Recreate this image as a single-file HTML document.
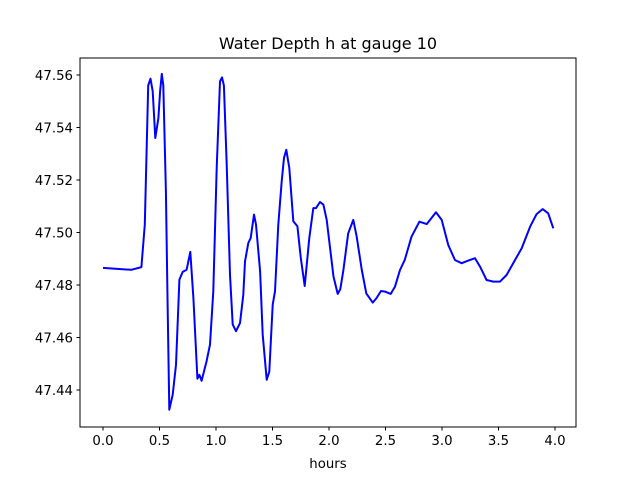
<!DOCTYPE html>
<html><head><meta charset="utf-8"><style>
body{margin:0;background:#fff;}
svg text{font-family:"DejaVu Sans","Liberation Sans",sans-serif;fill:#000;}
</style></head><body>
<svg id="chart" width="640" height="480" xmlns="http://www.w3.org/2000/svg">
<rect width="640" height="480" fill="#fff"/>
<text x="328" y="49" font-size="16" text-anchor="middle">Water Depth h at gauge 10</text>
<text x="328" y="468" font-size="13.3" text-anchor="middle">hours</text>
<g id="ticks"></g>
<path id="line" fill="none" stroke="#0000ff" stroke-width="2" stroke-linejoin="round"/>
<rect x="80" y="58" width="496" height="369" fill="none" stroke="#000" stroke-width="1"/>
</svg>
<script>
const hours=[0,0.25,0.34,0.37,0.40,0.42,0.44,0.463,0.49,0.505,0.52,0.534,0.557,0.57,0.587,0.617,0.646,0.676,0.705,0.74,0.773,0.80,0.835,0.853,0.873,0.917,0.947,0.976,1.006,1.035,1.053,1.07,1.095,1.124,1.148,1.177,1.212,1.242,1.257,1.286,1.307,1.336,1.354,1.39,1.413,1.449,1.472,1.502,1.522,1.551,1.581,1.602,1.622,1.649,1.684,1.72,1.75,1.785,1.826,1.861,1.885,1.92,1.95,1.98,2.04,2.077,2.10,2.127,2.17,2.215,2.245,2.29,2.33,2.387,2.42,2.46,2.496,2.546,2.584,2.628,2.67,2.73,2.8,2.865,2.947,2.997,3.056,3.115,3.174,3.233,3.292,3.336,3.395,3.454,3.513,3.572,3.63,3.705,3.78,3.837,3.89,3.94,3.985];
const depth=[47.4865,47.4858,47.4868,47.503,47.556,47.5586,47.5538,47.536,47.5436,47.5538,47.5604,47.556,47.5158,47.4777,47.4325,47.4382,47.4496,47.482,47.485,47.4858,47.4926,47.475,47.4443,47.4458,47.4435,47.451,47.4573,47.4776,47.5246,47.5576,47.5591,47.556,47.526,47.4839,47.465,47.4624,47.4655,47.4763,47.489,47.496,47.4979,47.5068,47.503,47.4852,47.4611,47.4439,47.447,47.4725,47.4776,47.503,47.5195,47.5284,47.5315,47.5246,47.5043,47.5024,47.4903,47.4796,47.4979,47.5093,47.5093,47.5116,47.5106,47.5048,47.4832,47.4766,47.4784,47.4857,47.4997,47.5048,47.4984,47.4857,47.4768,47.4733,47.475,47.4777,47.4775,47.4766,47.4794,47.4857,47.4895,47.4984,47.5041,47.5032,47.5077,47.5048,47.4952,47.4895,47.4883,47.4893,47.4902,47.487,47.4819,47.4813,47.4813,47.4838,47.4883,47.494,47.5022,47.507,47.5089,47.5073,47.5016];
const xTicks=[0,0.5,1,1.5,2,2.5,3,3.5,4];
const yTicks=[47.44,47.46,47.48,47.50,47.52,47.54,47.56];
function xs(v){return 103+v*113;}
function ys(v){return 390-(v-47.44)*(315/0.12);}
const NS='http://www.w3.org/2000/svg';
const g=document.getElementById('ticks');
xTicks.forEach(t=>{
  const l=document.createElementNS(NS,'line');
  
  
  l.setAttribute('x1',xs(t));l.setAttribute('x2',xs(t));l.setAttribute('y1',427);l.setAttribute('y2',430.5);l.setAttribute('stroke','#000');
  g.appendChild(l);
  const tx=document.createElementNS(NS,'text');
  
  
  tx.setAttribute('x',xs(t));tx.setAttribute('y',445);tx.setAttribute('font-size','13.3');tx.setAttribute('text-anchor','middle');
  tx.textContent=t.toFixed(1);g.appendChild(tx);
});
yTicks.forEach(t=>{
  const l=document.createElementNS(NS,'line');
  
  
  l.setAttribute('x1',76.5);l.setAttribute('x2',80);l.setAttribute('y1',ys(t));l.setAttribute('y2',ys(t));l.setAttribute('stroke','#000');
  g.appendChild(l);
  const tx=document.createElementNS(NS,'text');
  
  
  tx.setAttribute('x',73);tx.setAttribute('y',ys(t)+5);tx.setAttribute('font-size','13.3');tx.setAttribute('text-anchor','end');
  tx.textContent=t.toFixed(2);g.appendChild(tx);
});
document.getElementById('line').setAttribute('d',hours.map((h,i)=>(i?'L':'M')+xs(h).toFixed(1)+' '+ys(depth[i]).toFixed(1)).join(' '));
</script>
</body></html>
